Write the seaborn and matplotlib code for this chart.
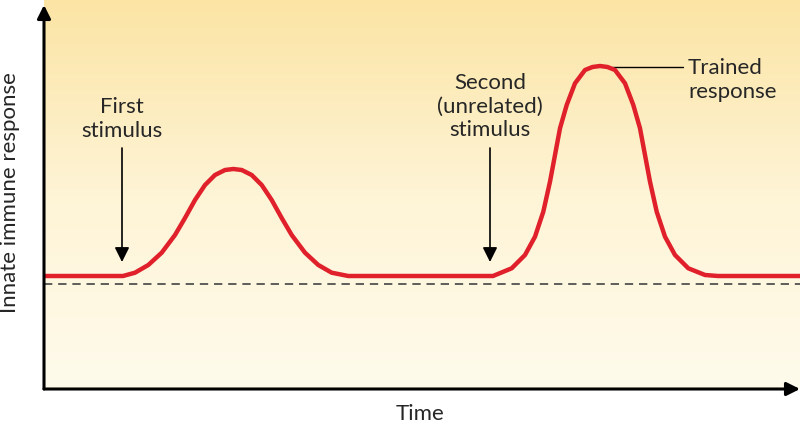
import numpy as np
import pandas as pd
import seaborn as sns
import matplotlib.pyplot as plt
from matplotlib.colors import LinearSegmentedColormap

sns.set_style("white")
plt.rcParams['font.family'] = ['Lato', 'DejaVu Sans']

# curve (time vs response, arbitrary units)
time = [0, 79, 91, 104.3, 117.7, 131, 141, 151, 161, 171, 181, 189.3, 197.7, 207.7, 217.7,
        227.7, 237.7, 247.7, 261, 274.3, 287.7, 304.3,
        449, 467.7, 481, 491, 499.3, 506, 511, 516, 522.7, 531, 541, 548.5, 556, 563.5, 571, 581, 589.3,
        596, 601, 606, 612.7, 621, 631, 644.3, 661, 674, 756]
response = [113, 113, 116.3, 124, 136.3, 154, 171, 189, 204, 214, 219, 220, 219, 214, 204,
            189, 171, 154, 136.3, 124, 116.3, 113,
            113, 120.7, 134, 152.3, 177.3, 207.3, 234, 260.7, 284, 305.7, 319, 322, 323, 322, 319, 305.7, 284,
            260.7, 234, 207.3, 177.3, 152.3, 134, 120.7, 114, 113, 113]
baseline = 105
stim_times = [78, 446]
stim_labels = ["First\nstimulus", "Second\n(unrelated)\nstimulus"]
trained_label = "Trained\nresponse"

df = pd.DataFrame({"time": time, "response": response})

fig = plt.figure(figsize=(8, 4.26), dpi=100)
ax = fig.add_axes([44/800, 37/426, 756/800, 389/426])
ax.set_xlim(0, 756)
ax.set_ylim(0, 389)

# background gradient
cmap = LinearSegmentedColormap.from_list("bg", ["#fffbec", "#fef4d6", "#fbe4a4"])
grad = np.linspace(0, 1, 256).reshape(-1, 1)
ax.imshow(grad, extent=[0, 756, 0, 389], origin="lower", aspect="auto", cmap=cmap, zorder=0)

ax.axhline(baseline, color="#444444", lw=1.2, ls=(0, (5, 3.5)), zorder=1)
sns.lineplot(data=df, x="time", y="response", color="#e0202a", lw=3.2, ax=ax,
             zorder=3, solid_joinstyle="round", solid_capstyle="butt")

for t in stim_times:
    ax.annotate("", xy=(t, 127), xytext=(t, 241),
                arrowprops=dict(arrowstyle="-|>", color="black", lw=1.2, mutation_scale=22,
                                shrinkA=0, shrinkB=0))
ax.text(stim_times[0], 270, stim_labels[0], ha="center", va="center", fontsize=16, linespacing=1.2)
ax.text(stim_times[1], 282.5, stim_labels[1], ha="center", va="center", fontsize=16, linespacing=1.2)

ax.plot([568, 639], [322, 322], color="black", lw=1)
ax.text(644, 309, trained_label, ha="left", va="center", fontsize=16, linespacing=1.2)

# axes with arrowheads
for s in ax.spines.values():
    s.set_visible(False)
ax.set_xticks([])
ax.set_yticks([])
ax.set_xlabel("")
ax.set_ylabel("")
ax.annotate("", xy=(0, 384), xytext=(0, 0), annotation_clip=False,
            arrowprops=dict(arrowstyle="-|>", color="black", lw=2.2, mutation_scale=20,
                            shrinkA=0, shrinkB=0))
ax.annotate("", xy=(756, 0), xytext=(0, 0), annotation_clip=False,
            arrowprops=dict(arrowstyle="-|>", color="black", lw=2.2, mutation_scale=20,
                            shrinkA=0, shrinkB=0))

fig.text(420/800, 1 - 414/426, "Time", ha="center", va="center", fontsize=16)
fig.text(10/800, 1 - 193/426, "Innate immune response", ha="center", va="center",
         rotation=90, fontsize=16)

fig.savefig("out.png", dpi=100, facecolor="white")
